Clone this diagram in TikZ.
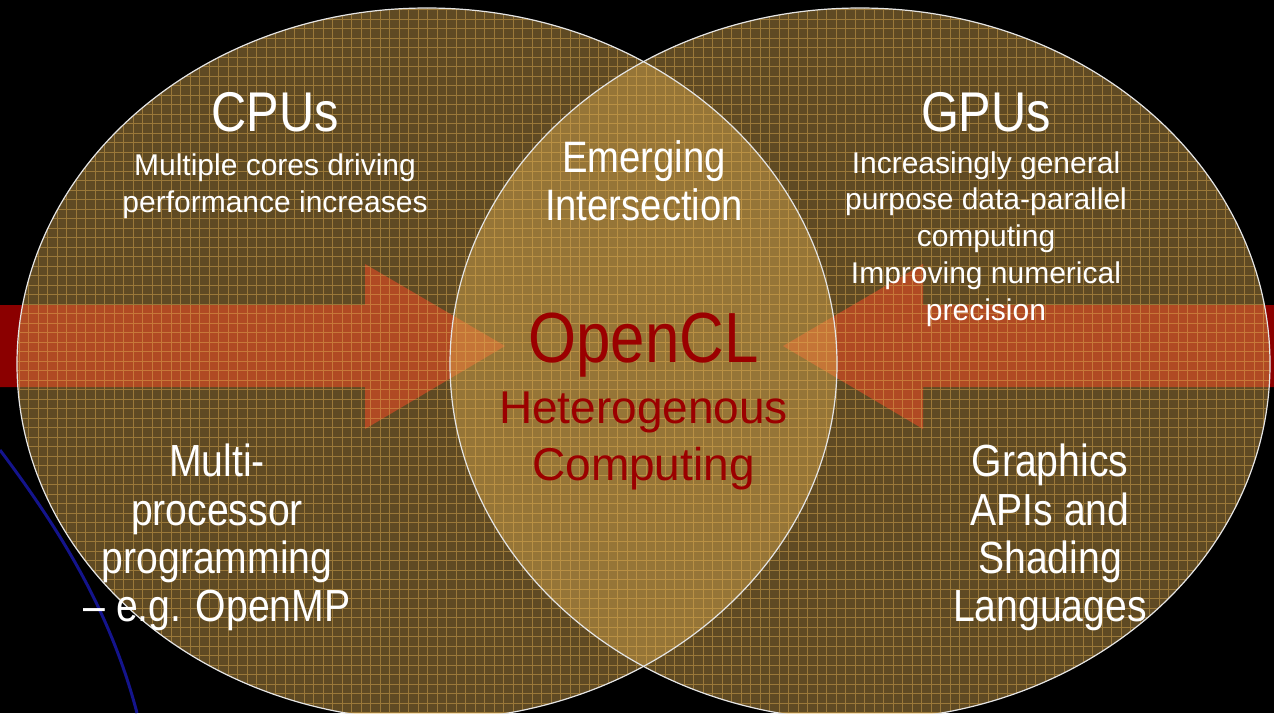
\documentclass[tikz,border=0pt]{standalone}
\usepackage{fontspec}
\setmainfont{Liberation Sans}
\newfontfamily\narrowfont[FakeStretch=0.87]{Liberation Sans}
\usetikzlibrary{positioning}

\definecolor{gold}{RGB}{228,178,84}
\definecolor{arrowred}{RGB}{139,0,0}
\definecolor{oclred}{RGB}{155,0,0}
\definecolor{deepblue}{RGB}{20,20,140}

\begin{document}
\begin{tikzpicture}[x=1pt,y=-1pt,
    heading/.style={text=white, inner sep=0pt, anchor=base, font=\narrowfont\fontsize{56}{60}\selectfont},
    note/.style={text=white, inner sep=0pt, anchor=base, align=center, font=\fontsize{30}{36.7}\selectfont},
    block/.style={text=white, inner sep=0pt, anchor=base, align=center, font=\narrowfont\fontsize{45}{48.3}\selectfont},
    middle/.style={text=white, inner sep=0pt, anchor=base, align=center, font=\narrowfont\fontsize{44}{48}\selectfont},
    ocl/.style={text=oclred, inner sep=0pt, anchor=base, font=\narrowfont\fontsize{71}{75}\selectfont},
    hetero/.style={text=oclred, inner sep=0pt, anchor=base, align=center, font=\fontsize{46}{57}\selectfont},
    bigarrow/.style={fill=arrowred},
    venn/.style={fill=gold, fill opacity=0.42},
    rim/.style={draw=white!90!black, line width=1.2pt}]

    \fill[black] (0,0) rectangle (1274,713);
    \useasboundingbox (0,0) rectangle (1274,713);

    % decorative line bottom left
    \draw[deepblue, line width=3pt] (0,450) .. controls (60,530) and (110,610) .. (137,713);

    % arrows towards the middle
    \fill[bigarrow] (0,305) -- (365,305) -- (365,264) -- (505,346) -- (365,429) -- (365,387) -- (0,387) -- cycle;
    \fill[bigarrow] (1274,305) -- (923,305) -- (923,264) -- (783,346) -- (923,429) -- (923,387) -- (1274,387) -- cycle;

    % the two sets
    \fill[venn] (427,364) ellipse [x radius=410, y radius=356];
    \fill[venn] (860,364) ellipse [x radius=410, y radius=356];
    \begin{scope}
        \clip (427,364) ellipse [x radius=410, y radius=356]
              (860,364) ellipse [x radius=410, y radius=356];
        \draw[gold, opacity=0.45, line width=1pt] (0,0) grid[step=9.5pt] (1274,713);
    \end{scope}
    \draw[rim] (427,364) ellipse [x radius=410, y radius=356];
    \draw[rim] (860,364) ellipse [x radius=410, y radius=356];

    \node[heading] (cpus) at (275,131.7) {CPUs};
    \node[note] (cpunote) at (275,212) {Multiple cores driving\\performance increases};
    \node[heading] (gpus) at (986,131.7) {GPUs};
    \node[note] (gpunote) at (986,320) {Increasingly general\\purpose data-parallel\\computing\\Improving numerical\\precision};
    \node[middle] (emerge) at (644,220) {Emerging\\Intersection};
    \node[ocl] (opencl) at (643.5,362.7) {OpenCL};
    \node[hetero] (hetcomp) at (643.5,480) {Heterogenous\\Computing};
    \node[block] (multi) at (217,621.7) {Multi-\\processor\\programming\\– e.g. OpenMP};
    \node[block] (graphics) at (1050,621.7) {Graphics\\APIs and\\Shading\\Languages};
\end{tikzpicture}
\end{document}
